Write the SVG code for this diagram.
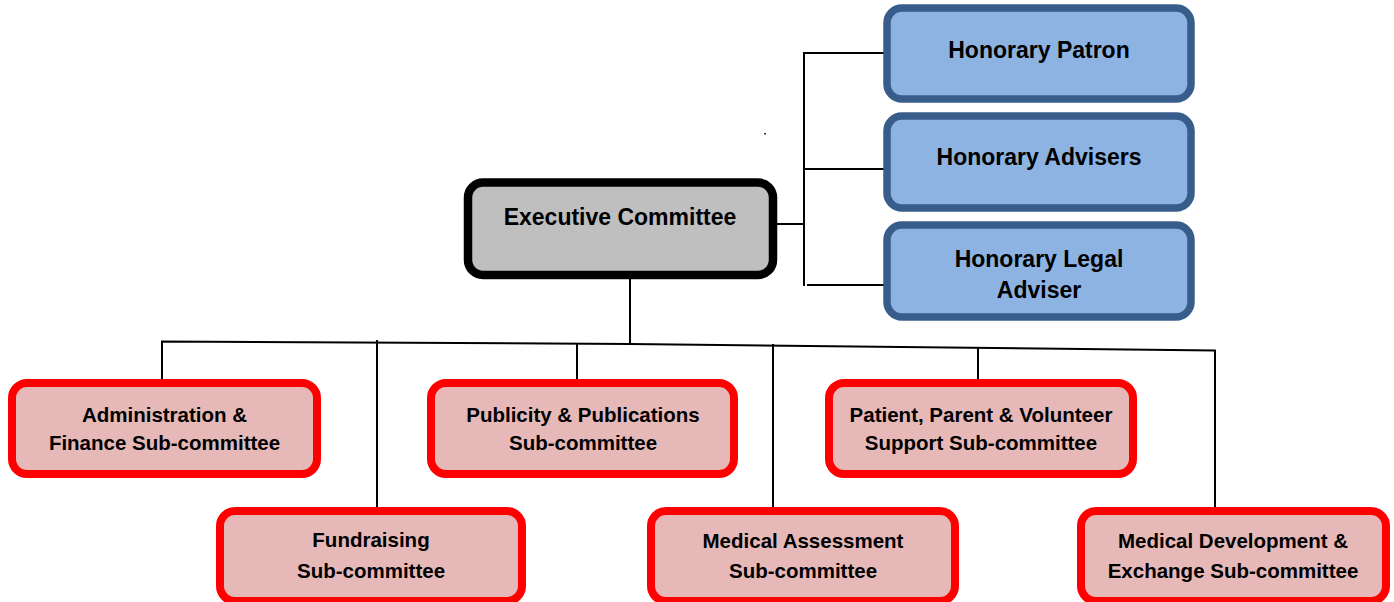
<svg xmlns="http://www.w3.org/2000/svg" width="1394" height="602" viewBox="0 0 1394 602">
<style>
.lbl{font-family:"Liberation Sans",Arial,sans-serif;font-weight:bold;fill:#000;text-anchor:middle}
.blue{fill:#8DB3E2;stroke:#385D8A;stroke-width:7.5}
.gray{fill:#BFBFBF;stroke:#000;stroke-width:8.5}
.red{fill:#E6B9B8;stroke:#FF0000;stroke-width:8}
.big{font-size:23px}
.sm{font-size:20.5px}
.conn{stroke:#000;stroke-width:2;fill:none}
</style>
<rect width="1394" height="602" fill="#fff"/>
<g id="connectors">
<path class="conn" d="M777 224H804M804 52V286M804 53H887M804 169H887M807 285H888"/>
<path class="conn" d="M630 279V344"/>
<path class="conn" d="M162 382V341.5L630 344L1215 350.5V511"/>
<path class="conn" d="M377 340V511"/>
<path class="conn" d="M577 343.5V383"/>
<path class="conn" d="M773 344V511"/>
<path class="conn" d="M978 348V383"/>
</g>
<rect x="764" y="133" width="2" height="1.5" fill="#333"/>
<g id="honorary-patron">
<rect class="blue" x="887" y="8" width="304" height="91" rx="15"/>
<text class="lbl big" x="1039" y="58">Honorary Patron</text>
</g>
<g id="honorary-advisers">
<rect class="blue" x="887" y="116" width="304" height="92" rx="15"/>
<text class="lbl big" x="1039" y="165">Honorary Advisers</text>
</g>
<g id="honorary-legal-adviser">
<rect class="blue" x="887" y="225" width="304" height="92" rx="15"/>
<text class="lbl big" x="1039" y="267">Honorary Legal</text>
<text class="lbl big" x="1039" y="298">Adviser</text>
</g>
<g id="executive-committee">
<rect class="gray" x="468" y="182.5" width="305" height="92.5" rx="15"/>
<text class="lbl big" x="620" y="225">Executive Committee</text>
</g>
<g id="admin-finance">
<rect class="red" x="12" y="383" width="305" height="91" rx="15"/>
<text class="lbl sm" x="164.5" y="422">Administration &amp;</text>
<text class="lbl sm" x="164.5" y="450">Finance Sub-committee</text>
</g>
<g id="publicity">
<rect class="red" x="431" y="383" width="303" height="91" rx="15"/>
<text class="lbl sm" x="583" y="422">Publicity &amp; Publications</text>
<text class="lbl sm" x="583" y="450">Sub-committee</text>
</g>
<g id="patient-support">
<rect class="red" x="829" y="383" width="304" height="91" rx="15"/>
<text class="lbl sm" x="981" y="422">Patient, Parent &amp; Volunteer</text>
<text class="lbl sm" x="981" y="450">Support Sub-committee</text>
</g>
<g id="fundraising">
<rect class="red" x="220" y="511" width="302" height="90" rx="15"/>
<text class="lbl sm" x="371" y="547">Fundraising</text>
<text class="lbl sm" x="371" y="578">Sub-committee</text>
</g>
<g id="medical-assessment">
<rect class="red" x="651" y="511" width="304" height="90" rx="15"/>
<text class="lbl sm" x="803" y="548">Medical Assessment</text>
<text class="lbl sm" x="803" y="578">Sub-committee</text>
</g>
<g id="medical-development">
<rect class="red" x="1081" y="511" width="305" height="90" rx="15"/>
<text class="lbl sm" x="1233" y="548">Medical Development &amp;</text>
<text class="lbl sm" x="1233" y="578">Exchange Sub-committee</text>
</g>
</svg>
